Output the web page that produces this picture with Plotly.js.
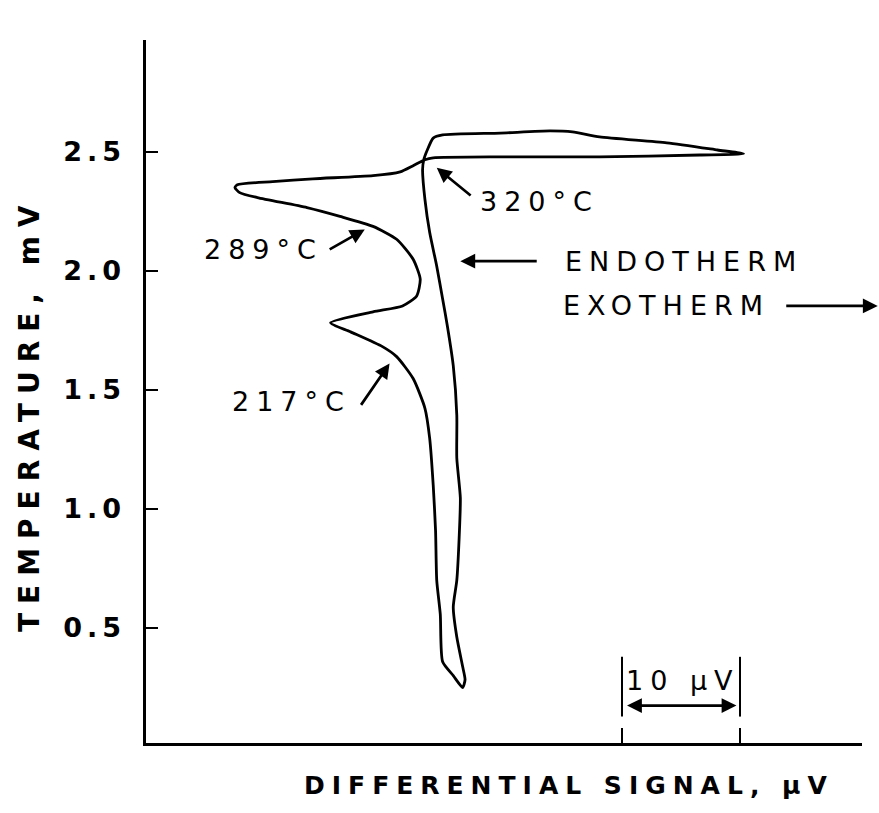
<!DOCTYPE html>
<html>
<head>
<meta charset="utf-8">
<script src="https://cdn.plot.ly/plotly-3.0.1.min.js"></script>
<style>
  html, body { margin: 0; padding: 0; background: #fff; }
  #chart { width: 879px; height: 813px; }
  .annotation-text { letter-spacing: 7px; }
  .annotation[data-index="0"] .annotation-text { letter-spacing: 7px; }
  .annotation[data-index="1"] .annotation-text { letter-spacing: 9px; }
  .ytick text { letter-spacing: 5px; }
</style>
</head>
<body>
<div id="chart"></div>
<script>
// DTA trace: differential signal (µV, arbitrary origin) vs temperature (mV), closed heating/cooling loop
const signal = [26.5, 25.7, 24.8, 24.6, 24.3, 24.2, 24.0, 23.7, 23.3, 22.3, 20.9, 19.7, 17.0, 15.3,
  18.9, 21.4, 22.6, 22.9, 22.3, 20.9, 18.9, 16.1, 13.3, 9.1, 7.6, 7.2, 7.4, 10.4, 13.8, 18.9, 21.2,
  22.3, 23.3, 24.0, 29.7, 38.1, 46.6, 50.3, 48.1, 43.8, 38.1, 35.8, 33.9, 29.7, 24.8, 24.0, 23.5,
  23.2, 23.1, 23.3, 23.7, 24.3, 24.8, 25.2, 25.7, 26.0, 26.0, 26.3, 26.2, 26.0, 25.7, 26.0, 26.5,
  26.7, 26.5];
const temperature = [0.25, 0.30, 0.358, 0.558, 0.70, 0.909, 1.101, 1.298, 1.423, 1.548, 1.64, 1.682, 1.744, 1.782,
  1.828, 1.853, 1.895, 1.966, 2.049, 2.133, 2.187, 2.229, 2.266, 2.308, 2.329, 2.35, 2.362, 2.375, 2.387, 2.40, 2.416,
  2.442, 2.467, 2.475, 2.479, 2.479, 2.487, 2.492, 2.508, 2.538, 2.563, 2.584, 2.588, 2.579, 2.571, 2.558, 2.508,
  2.467, 2.425, 2.30, 2.162, 2.020, 1.882, 1.769, 1.602, 1.394, 1.214, 1.047, 0.880, 0.70, 0.588, 0.462, 0.337,
  0.283, 0.25];

const yTickVals = [0.5, 1.0, 1.5, 2.0, 2.5];
const yTickText = ["0.5", "1.0", "1.5", "2.0", "2.5"];
const scaleBarTicks = [40, 50];

const peakLabels = ["217°C", "289°C", "320°C"];
const xTitle = "DIFFERENTIAL SIGNAL, µV";
const yTitle = "TEMPERATURE, mV";

const font = "DejaVu Sans, Verdana, sans-serif";

const trace = {
  x: signal, y: temperature, type: "scatter", mode: "lines",
  line: { color: "#000", width: 2.8, shape: "spline", smoothing: 0.6 },
  hoverinfo: "skip", showlegend: false
};

function arrow(x, y, ax, ay, extra) {
  return Object.assign({
    x: x, y: y, ax: ax, ay: ay, xref: "x", yref: "y", axref: "x", ayref: "y",
    text: "", showarrow: true, arrowhead: 2, arrowsize: 1.1, arrowwidth: 2.7, arrowcolor: "#000"
  }, extra || {});
}
function label(text, x, y, anchor) {
  return { x: x, y: y, xref: "x", yref: "y", text: text, showarrow: false,
    xanchor: anchor || "center", yanchor: "middle",
    font: { family: font, size: 27, color: "#000" } };
}

const annotations = [
  { x: 0.591, y: -0.06, xref: "paper", yref: "paper", text: xTitle, showarrow: false,
    xanchor: "center", yanchor: "middle",
    font: { family: font, size: 25, color: "#000", weight: "bold" } },
  { x: -0.162, y: 0.468, xref: "paper", yref: "paper", text: yTitle, showarrow: false,
    textangle: -90, xanchor: "center", yanchor: "middle",
    font: { family: font, size: 28, color: "#000", weight: "bold" } },
  label(peakLabels[2], 33.0, 2.291),
  arrow(24.3, 2.433, 27.3, 2.312),
  label(peakLabels[1], 9.6, 2.091),
  arrow(18.2, 2.174, 15.1, 2.087),
  label(peakLabels[0], 12.0, 1.452),
  arrow(20.3, 1.611, 17.8, 1.431),
  label("ENDOTHERM", 35.0, 2.041, "left"),
  arrow(26.3, 2.041, 32.9, 2.041),
  label("EXOTHERM", 34.8, 1.853, "left"),
  { x: 1.022, y: 1.853, xref: "paper", yref: "y", ax: -93, ay: 0, text: "", showarrow: true,
    arrowhead: 2, arrowsize: 1.1, arrowwidth: 2.7, arrowcolor: "#000" },
  label("10 µV", 45.2, 0.28),
  arrow(49.7, 0.174, 40.3, 0.174, { arrowside: "end+start" })
];

const shapes = scaleBarTicks.map(v => ({
  type: "line", xref: "x", yref: "y", x0: v, x1: v, y0: 0.128, y1: 0.379,
  line: { color: "#000", width: 2 }
}));

const layout = {
  width: 879, height: 813,
  margin: { l: 146, r: 17, t: 40, b: 70 },
  paper_bgcolor: "#fff", plot_bgcolor: "#fff",
  showlegend: false,
  xaxis: {
    range: [-0.34, 60.34], showgrid: false, zeroline: false,
    showline: true, linecolor: "#000", linewidth: 2.6,
    ticks: "inside", ticklen: 15, tickwidth: 2, tickcolor: "#000",
    tickvals: scaleBarTicks, showticklabels: false
  },
  yaxis: {
    range: [0.017, 2.97], showgrid: false, zeroline: false,
    showline: true, linecolor: "#000", linewidth: 2.6,
    ticks: "inside", ticklen: 12, tickwidth: 2.2, tickcolor: "#000",
    tickvals: yTickVals, ticktext: yTickText,
    tickfont: { family: font, size: 27, color: "#000", weight: "bold" },
    ticklabelstandoff: 12
  },
  annotations: annotations,
  shapes: shapes
};

Plotly.newPlot("chart", [trace], layout, { displayModeBar: false, staticPlot: true });
</script>
</body>
</html>
